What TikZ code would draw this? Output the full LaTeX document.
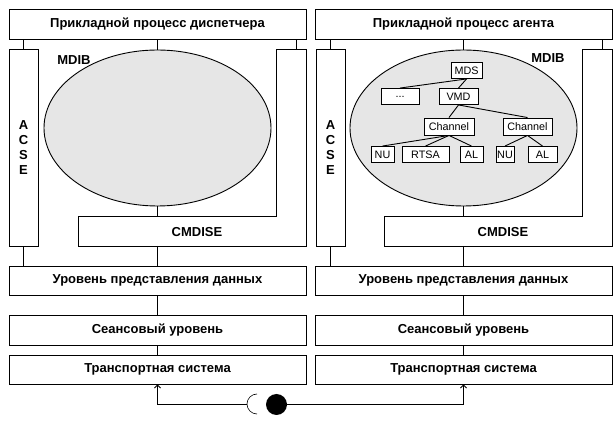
\documentclass[tikz,border=0pt]{standalone}
\usepackage{fontspec}
\setmainfont{Liberation Sans}
\usetikzlibrary{arrows.meta,shapes.geometric}
\definecolor{mdibgrey}{HTML}{E6E6E6}
\tikzset{
  layer/.style={draw,minimum width=297pt,inner sep=0pt,
    font=\fontsize{13}{14}\selectfont\bfseries},
  lbl/.style={font=\fontsize{13}{15}\selectfont\bfseries},
  objbox/.style={draw,fill=white,minimum height=16pt,inner sep=0pt,
    font=\fontsize{10.8}{12}\selectfont},
  link/.style={-{Straight Barb[length=3pt,width=6pt]}}
}
\begin{document}
\begin{tikzpicture}[x=1pt,y=-1pt,line width=0.9pt]
    \useasboundingbox (0,0) rectangle (616,427);
    % dispatcher
    \node[layer,minimum height=30pt] (appL) at (157.5,24) {Прикладной процесс диспетчера};
    \node[draw,lbl,align=center,inner sep=0pt,minimum width=29pt,minimum height=197pt]
      (acseL) at (23.5,147.5) {A\\C\\S\\E};
    \node[ellipse,draw,fill=mdibgrey,inner sep=0pt,minimum width=227pt,minimum height=156pt]
      (mdibL) at (157.5,128) {};
    \node[lbl] (mdibtxtL) at (74,60) {MDIB};
    \draw (78,216) -- (78,246) -- (306,246) -- (306,49) -- (276,49) -- (276,216) -- cycle;
    \node[lbl] (cmdiseL) at (197,232) {CMDISE};
    \coordinate (colL) at (296,49);
    \coordinate (barL) at (157.5,216);
    \coordinate (barLb) at (157.5,246);
    \node[layer,minimum height=29pt] (presL) at (157.5,280.5) {Уровень представления данных};
    \node[layer,minimum height=30pt] (sessL) at (157.5,330) {Сеансовый уровень};
    \node[layer,minimum height=29pt] (transL) at (157.5,369.5) {Транспортная система};
    \draw (acseL.north) -- (acseL.north |- appL.south);
    \draw (mdibL.north) -- (appL.south);
    \draw (colL) -- (colL |- appL.south);
    \draw (mdibL.south) -- (barL);
    \draw (acseL.south) -- (acseL.south |- presL.north);
    \draw (barLb) -- (presL.north);
    \draw (presL) -- (sessL);
    \draw (sessL) -- (transL);
    % agent
    \begin{scope}[shift={(306,0)}]
      \node[layer,minimum height=30pt] (appR) at (157.5,24) {Прикладной процесс агента};
      \node[draw,lbl,align=center,inner sep=0pt,minimum width=29pt,minimum height=197pt]
        (acseR) at (24.5,147.5) {A\\C\\S\\E};
      \node[ellipse,draw,fill=mdibgrey,inner sep=0pt,minimum width=227pt,minimum height=156pt]
        (mdibR) at (157.5,128) {};
      \node[lbl] (mdibtxtR) at (242,58) {MDIB};
      \draw (78,216) -- (78,246) -- (306,246) -- (306,49) -- (276,49) -- (276,216) -- cycle;
      \node[lbl] (cmdiseR) at (197,232) {CMDISE};
      \coordinate (colR) at (296,49);
      \coordinate (barR) at (157.5,216);
      \coordinate (barRb) at (157.5,246);
      \node[layer,minimum height=29pt] (presR) at (157.5,280.5) {Уровень представления данных};
      \node[layer,minimum height=30pt] (sessR) at (157.5,330) {Сеансовый уровень};
      \node[layer,minimum height=29pt] (transR) at (157.5,369.5) {Транспортная система};
      \draw (acseR.north) -- (acseR.north |- appR.south);
      \draw (mdibR.north) -- (appR.south);
      \draw (colR) -- (colR |- appR.south);
      \draw (mdibR.south) -- (barR);
      \draw (acseR.south) -- (acseR.south |- presR.north);
      \draw (barRb) -- (presR.north);
      \draw (presR) -- (sessR);
      \draw (sessR) -- (transR);
    \end{scope}
    % object tree inside the agent MDIB
    \node[objbox,minimum width=31pt] (mds)   at (466.5,70.5)  {MDS};
    \node[objbox,minimum width=38pt] (dots)  at (400,96.5)    {...};
    \node[objbox,minimum width=39pt] (vmd)   at (458.5,96.5)  {VMD};
    \node[objbox,minimum width=50pt,minimum height=17pt] (chanA) at (449,126.5) {Channel};
    \node[objbox,minimum width=49pt,minimum height=17pt] (chanB) at (527.5,126.5) {Channel};
    \node[objbox,minimum width=23pt] (nuA)   at (382.5,154.5) {NU};
    \node[objbox,minimum width=47pt] (rtsa)  at (425.5,154.5) {RTSA};
    \node[objbox,minimum width=23pt] (alA)   at (471.5,154.5) {AL};
    \node[objbox,minimum width=18pt] (nuB)   at (505,154.5)   {NU};
    \node[objbox,minimum width=29pt] (alB)   at (542.5,154.5) {AL};
    \draw (mds.south) -- (dots.north);
    \draw (mds.south) -- (vmd.north);
    \draw (vmd.south) -- (chanA.north);
    \draw (vmd.south) -- (chanB.north);
    \draw (chanA.south) -- (nuA.north);
    \draw (chanA.south) -- (rtsa.north);
    \draw (chanA.south) -- (alA.north);
    \draw (chanB.south) -- (nuB.north);
    \draw (chanB.south) -- (alB.north);
    % link between the transport systems
    \node[circle,fill,inner sep=0pt,minimum size=21pt] (plug) at (276.5,404.5) {};
    \coordinate (sock) at (247,404);
    \draw[line width=0.6pt] (257,414) arc[start angle=90,end angle=270,radius=10];
    \draw[link] (sock) -| (transL.south);
    \draw[link] (plug.east) -| (transR.south);
\end{tikzpicture}
\end{document}
